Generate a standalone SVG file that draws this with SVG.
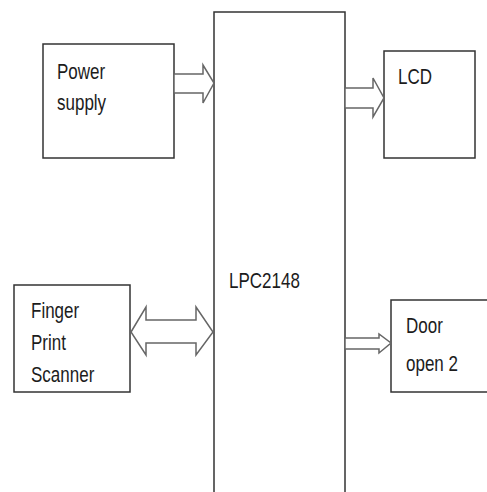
<svg xmlns="http://www.w3.org/2000/svg" width="487" height="492" viewBox="0 0 487 492">
<style>
.box{fill:#fff;stroke:#333;stroke-width:1.5}
.arr{fill:#fff;stroke:#666;stroke-width:1.5;stroke-linejoin:miter}
.t{font-family:"Liberation Sans",Arial,sans-serif;font-size:17px;fill:#1c1c1c}
</style>
<rect width="487" height="492" fill="#fff"/>
<g id="lpc2148">
<rect class="box" x="214" y="12" width="131" height="500"/>
<text class="t" transform="translate(229,288) scale(1,1.35)">LPC2148</text>
</g>
<g id="power-supply">
<rect class="box" x="43" y="44" width="131" height="114"/>
<text class="t" transform="translate(57,79) scale(1,1.35)">Power</text>
<text class="t" transform="translate(57,110) scale(1,1.35)">supply</text>
</g>
<g id="lcd">
<rect class="box" x="384" y="51" width="91" height="107"/>
<text class="t" transform="translate(398,84) scale(1,1.35)">LCD</text>
</g>
<g id="finger-print-scanner">
<rect class="box" x="14" y="285" width="116" height="107"/>
<text class="t" transform="translate(31,318) scale(1,1.35)">Finger</text>
<text class="t" transform="translate(31,350) scale(1,1.35)">Print</text>
<text class="t" transform="translate(31,382) scale(1,1.35)">Scanner</text>
</g>
<g id="door-open-2">
<rect class="box" x="391" y="300" width="110" height="92"/>
<text class="t" transform="translate(406,333) scale(1,1.35)">Door</text>
<text class="t" transform="translate(406,371) scale(1,1.35)">open 2</text>
</g>
<g id="connectors">
<polygon class="arr" points="174,74 203,74 203,65 214,83 203,103 203,93 174,93"/>
<polygon class="arr" points="345,88 373,88 373,78 384,98 373,117 373,108 345,108"/>
<polygon class="arr" points="131,332 146,307 146,320 196,320 196,307 213,332 196,355 196,343 146,343 146,355"/>
<polygon class="arr" points="345,338 379,338 379,334 391,343 379,353 379,349 345,349"/>
</g>
</svg>
